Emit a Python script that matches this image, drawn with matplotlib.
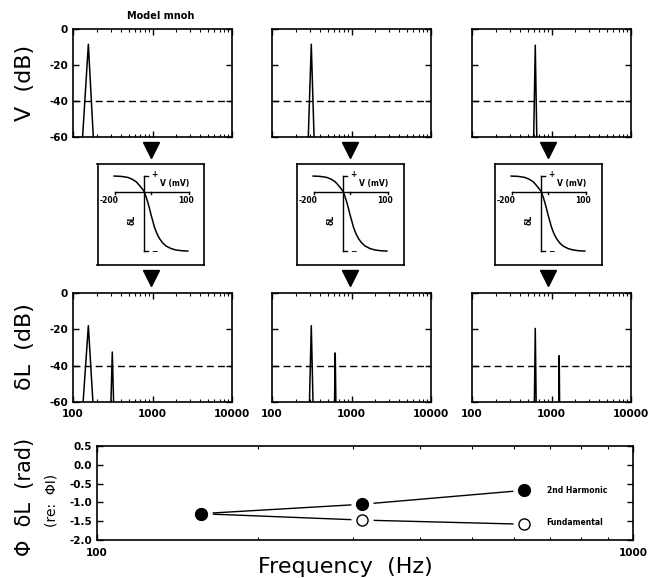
import numpy as np
import matplotlib
matplotlib.use("Agg")
import matplotlib.pyplot as plt
from matplotlib.lines import Line2D
from matplotlib.ticker import NullFormatter

plt.rcParams["font.family"] = ["DejaVu Sans"]
plt.rcParams["axes.unicode_minus"] = False

### Data

# stimulus frequencies of the three columns (Hz)
stim_freq = [156, 312, 625]
# receptor potential spectrum peak (dB)
v_peak_db = [-8.5, -8.5, -9.0]
v_halfwidth_hz = [24, 26, 28]
# length change spectrum: fundamental and 2nd harmonic (dB)
dl_fund_db = [-18.0, -18.0, -19.5]
dl_harm_db = [-32.5, -33.0, -34.5]
dl_fund_halfwidth_hz = [22, 16, 16]
dl_harm_halfwidth_hz = [12, 12, 14]
noise_floor_db = -40

# transducer schematic (mV vs relative dL)
sig_v_mv = [-203, -175, -148, -130, -114, -104, -94, -87, -80.5, -74, -67, -60, -53, -46, -40,
            -30, -19.5, -6, 8, 28, 48, 72, 96]
sig_dl = [1.0, 0.98, 0.915, 0.80, 0.64, 0.47, 0.28, 0.14, 0.0, -0.30, -0.64, -1.05, -1.49,
          -1.88, -2.23, -2.65, -2.98, -3.27, -3.47, -3.63, -3.72, -3.77, -3.79]

# phase of dL re: phase of current (rad)
phase_freq = [156, 312, 625]
phase_harm = [-1.30, -1.05, -0.68]
phase_fund = [-1.30, -1.47, -1.58]

W, H = 660, 578


def fx(px):
    return px / W


def fy(py):
    return 1 - py / H


def style_axes(ax, lw=1.2):
    for s in ax.spines.values():
        s.set_linewidth(lw)
    ax.xaxis.set_minor_formatter(NullFormatter())
    ax.tick_params(which="both", direction="in", top=True, right=True, labelsize=7.5)
    ax.tick_params(which="major", length=4, width=1.0)
    ax.tick_params(which="minor", length=2, width=0.8)
    for lab in ax.get_xticklabels() + ax.get_yticklabels():
        lab.set_fontweight("bold")


fig = plt.figure(figsize=(6.6, 5.78), dpi=100)

col_left = [73, 272, 472]
panel_w = 159
rows = {"v": (29, 137), "dl": (293, 402)}

for i in range(3):
    for key, (top, bot) in rows.items():
        ax = fig.add_axes([fx(col_left[i]), fy(bot), panel_w / W, (bot - top) / H])
        ax.set_xscale("log")
        ax.set_xlim(100, 10000)
        ax.set_ylim(-60, 0)
        ax.set_yticks([0, -20, -40, -60])
        ax.axhline(noise_floor_db, ls=(0, (5, 3)), lw=1.0, color="k")
        f0 = stim_freq[i]
        if key == "v":
            hw = v_halfwidth_hz[i]
            ax.plot([f0 - hw, f0, f0 + hw], [-60, v_peak_db[i], -60], color="k", lw=1.1)
            ax.set_xticks([100, 1000, 10000])
            ax.set_xticklabels([])
        else:
            hw = dl_fund_halfwidth_hz[i]
            ax.plot([f0 - hw, f0, f0 + hw], [-60, dl_fund_db[i], -60], color="k", lw=1.1)
            f2 = 2 * f0
            hw2 = dl_harm_halfwidth_hz[i]
            ax.plot([f2 - hw2, f2, f2 + hw2], [-60, dl_harm_db[i], -60], color="k", lw=1.1)
            ax.set_xticks([100, 1000, 10000])
            ax.set_xticklabels(["100", "1000", "10000"])
        if i > 0:
            ax.set_yticklabels([])
        else:
            ax.set_yticklabels(["0", "-20", "-40", "-60"])
        style_axes(ax)
        ax.tick_params(axis="x", pad=5)

fig.text(fx(161), fy(16), "Model mnoh", fontsize=7, fontweight="bold", ha="center", va="center")

# arrows and transducer boxes
centers = [151, 350, 548]
for c in centers:
    for yy in (150.5, 277.5):
        fig.add_artist(Line2D([fx(c)], [fy(yy)], marker="v", ms=12, color="k",
                              transform=fig.transFigure))
    box = fig.add_axes([fx(c - 53.5), fy(265), 107 / W, 101 / H])
    box.set_xlim(-270.6, 163.8)
    box.set_ylim(-4.68, 1.77)
    box.set_xticks([])
    box.set_yticks([])
    for s in box.spines.values():
        s.set_linewidth(1.2)
    kw = dict(color="k", lw=1.0)
    box.plot([-200, 100], [0, 0], **kw)
    box.plot([-200, -200], [0, -0.17], **kw)
    box.plot([100, 100], [0, -0.17], **kw)
    box.plot([-53, -53], [0, -0.17], **kw)
    box.plot([-83, -83], [1.0, -3.79], **kw)
    box.plot([-83, -67], [1.0, 1.0], **kw)
    box.plot([-83, -67], [-3.79, -3.79], **kw)
    box.plot(sig_v_mv, sig_dl, color="k", lw=1.1)
    tk = dict(fontsize=5.5, fontweight="bold", ha="center", va="center")
    box.text(-40, 1.08, "+", **tk)
    box.text(41, 0.53, "V (mV)", **tk)
    box.text(-223, -0.55, "-200", **tk)
    box.text(89, -0.55, "100", **tk)
    box.text(-128, -1.81, "δL", rotation=90, **tk)
    box.text(-40, -3.79, "−", **tk)

# phase panel
axp = fig.add_axes([fx(97), fy(540), 536 / W, 94 / H])
axp.set_xscale("log")
axp.set_xlim(100, 1000)
axp.set_ylim(-2.0, 0.5)
axp.set_yticks([0.5, 0.0, -0.5, -1.0, -1.5, -2.0])
axp.set_yticklabels(["0.5", "0.0", "-0.5", "-1.0", "-1.5", "-2.0"])
axp.set_xticks([100, 1000])
axp.set_xticklabels(["100", "1000"])
axp.plot(phase_freq, phase_harm, color="k", lw=1.0, zorder=1)
axp.plot(phase_freq, phase_fund, color="k", lw=1.0, zorder=1)
axp.plot(phase_freq, phase_fund, ls="none", marker="o", ms=15, mfc="white", mec="white", zorder=2)
axp.plot(phase_freq, phase_harm, ls="none", marker="o", ms=15, mfc="white", mec="white", zorder=2)
axp.plot(phase_freq, phase_fund, ls="none", marker="o", ms=8, mfc="white", mec="k", mew=1.0, zorder=3)
axp.plot(phase_freq, phase_harm, ls="none", marker="o", ms=8.5, mfc="k", mec="k", zorder=4)
axp.text(690, phase_harm[-1], "2nd Harmonic", fontsize=5.5, fontweight="bold", va="center")
axp.text(690, phase_fund[-1] + 0.05, "Fundamental", fontsize=5.5, fontweight="bold", va="center")
style_axes(axp)
axp.tick_params(axis="x", pad=6)

# axis titles
fig.text(fx(25), fy(83), "V  (dB)", rotation=90, fontsize=16, ha="center", va="center")
fig.text(fx(25), fy(347), "δL  (dB)", rotation=90, fontsize=16, ha="center", va="center")
fig.text(fx(25), fy(497), "Φ  δL  (rad)", rotation=90, fontsize=15, ha="center", va="center")
fig.text(fx(52), fy(500), "(re:  ΦI)", rotation=90, fontsize=10, ha="center", va="center")
fig.text(fx(345), fy(567), "Frequency  (Hz)", fontsize=16, ha="center", va="center")

fig.savefig("out.png", dpi=100)
